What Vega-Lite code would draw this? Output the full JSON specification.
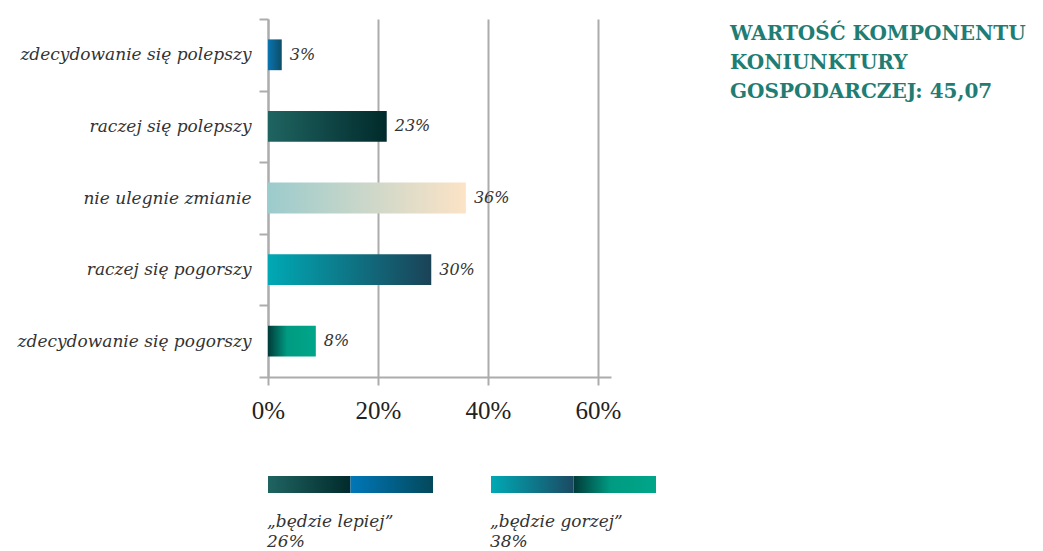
{
  "$schema": "https://vega.github.io/schema/vega-lite/v6.json",
  "background": "white",
  "padding": {"left": 17, "top": 10, "right": 5, "bottom": 0},
  "config": {"view": {"stroke": null}, "font": "DejaVu Serif"},
  "spacing": 53,
  "vconcat": [
    {
      "width": 343,
      "height": 358,
      "title": {
        "text": ["WARTOŚĆ KOMPONENTU", "KONIUNKTURY", "GOSPODARCZEJ: 45,07"],
        "anchor": "start",
        "frame": "group",
        "baseline": "top",
        "dx": 462,
        "dy": 92,
        "offset": 0,
        "font": "DejaVu Serif",
        "fontWeight": "bold",
        "fontSize": 20,
        "lineHeight": 29,
        "color": "#1f7d73"
      },
      "data": {
        "values": [
          {"odpowiedz": "zdecydowanie się polepszy", "udzial": 2.5, "etykieta": "3%"},
          {"odpowiedz": "raczej się polepszy", "udzial": 21.6, "etykieta": "23%"},
          {"odpowiedz": "nie ulegnie zmianie", "udzial": 36, "etykieta": "36%"},
          {"odpowiedz": "raczej się pogorszy", "udzial": 29.7, "etykieta": "30%"},
          {"odpowiedz": "zdecydowanie się pogorszy", "udzial": 8.7, "etykieta": "8%"}
        ]
      },
      "encoding": {
        "y": {
          "field": "odpowiedz",
          "type": "nominal",
          "sort": null,
          "title": null,
          "scale": {"paddingInner": 0, "paddingOuter": 0},
          "axis": {
            "tickBand": "extent",
            "domainColor": "#acacac",
            "domainWidth": 2,
            "tickColor": "#acacac",
            "tickWidth": 2,
            "tickSize": 9,
            "labelPadding": 8,
            "labelFont": "DejaVu Serif",
            "labelFontStyle": "italic",
            "labelFontSize": 17,
            "labelColor": "#333333",
            "labelLimit": 400,
            "grid": false
          }
        },
        "x": {
          "field": "udzial",
          "type": "quantitative",
          "title": null,
          "scale": {"domain": [0, 62.4], "nice": false},
          "axis": {
            "values": [0, 20, 40, 60],
            "labelExpr": "datum.value + '%'",
            "grid": true,
            "gridColor": "#acacac",
            "gridWidth": 2,
            "domainColor": "#acacac",
            "domainWidth": 2,
            "tickColor": "#acacac",
            "tickWidth": 2,
            "tickSize": 8,
            "labelPadding": 13,
            "labelFont": "Liberation Serif",
            "labelFontSize": 25,
            "labelColor": "#222222",
            "labelFlush": false
          }
        }
      },
      "layer": [
        {
          "transform": [{"filter": "datum.odpowiedz === 'zdecydowanie się polepszy'"}],
          "mark": {"type": "bar", "height": {"band": 0.43}, "color": {"gradient": "linear", "x1": 0, "y1": 0, "x2": 1, "y2": 0, "stops": [{"offset": 0, "color": "#0a74b0"}, {"offset": 1, "color": "#0c4d66"}]}}
        },
        {
          "transform": [{"filter": "datum.odpowiedz === 'raczej się polepszy'"}],
          "mark": {"type": "bar", "height": {"band": 0.43}, "color": {"gradient": "linear", "x1": 0, "y1": 0, "x2": 1, "y2": 0, "stops": [{"offset": 0, "color": "#1f6461"}, {"offset": 1, "color": "#012a2b"}]}}
        },
        {
          "transform": [{"filter": "datum.odpowiedz === 'nie ulegnie zmianie'"}],
          "mark": {"type": "bar", "height": {"band": 0.43}, "color": {"gradient": "linear", "x1": 0, "y1": 0, "x2": 1, "y2": 0, "stops": [{"offset": 0, "color": "#9bcbcc"}, {"offset": 1, "color": "#fce3c6"}]}}
        },
        {
          "transform": [{"filter": "datum.odpowiedz === 'raczej się pogorszy'"}],
          "mark": {"type": "bar", "height": {"band": 0.43}, "color": {"gradient": "linear", "x1": 0, "y1": 0, "x2": 1, "y2": 0, "stops": [{"offset": 0, "color": "#00a9b5"}, {"offset": 1, "color": "#1b4257"}]}}
        },
        {
          "transform": [{"filter": "datum.odpowiedz === 'zdecydowanie się pogorszy'"}],
          "mark": {"type": "bar", "height": {"band": 0.43}, "color": {"gradient": "linear", "x1": 0, "y1": 0, "x2": 1, "y2": 0, "stops": [{"offset": 0, "color": "#013b39"}, {"offset": 0.4, "color": "#009b82"}, {"offset": 1, "color": "#00a689"}]}}
        },
        {
          "mark": {"type": "text", "align": "left", "baseline": "middle", "dx": 8, "font": "DejaVu Serif", "fontStyle": "italic", "fontSize": 16, "color": "#333333"},
          "encoding": {"text": {"field": "etykieta"}}
        }
      ]
    },
    {
      "width": 388,
      "height": 17,
      "encoding": {
        "x": {"field": "grupa", "type": "nominal", "sort": ["lepiej", "gorzej"], "scale": {"paddingInner": 0.26, "paddingOuter": 0}, "axis": null}
      },
      "layer": [
        {
          "data": {"values": [
            {"grupa": "lepiej", "czesc": "a"},
            {"grupa": "lepiej", "czesc": "b"},
            {"grupa": "gorzej", "czesc": "a"},
            {"grupa": "gorzej", "czesc": "b"}
          ]},
          "encoding": {"xOffset": {"field": "czesc", "type": "nominal", "sort": ["a", "b"], "scale": {"paddingInner": 0, "paddingOuter": 0}}},
          "layer": [
            {
              "transform": [{"filter": "datum.grupa === 'lepiej' && datum.czesc === 'a'"}],
              "mark": {"type": "bar", "color": {"gradient": "linear", "x1": 0, "y1": 0, "x2": 1, "y2": 0, "stops": [{"offset": 0, "color": "#1f6461"}, {"offset": 1, "color": "#012a2b"}]}}
            },
            {
              "transform": [{"filter": "datum.grupa === 'lepiej' && datum.czesc === 'b'"}],
              "mark": {"type": "bar", "color": {"gradient": "linear", "x1": 0, "y1": 0, "x2": 1, "y2": 0, "stops": [{"offset": 0, "color": "#0077b8"}, {"offset": 1, "color": "#03485a"}]}}
            },
            {
              "transform": [{"filter": "datum.grupa === 'gorzej' && datum.czesc === 'a'"}],
              "mark": {"type": "bar", "color": {"gradient": "linear", "x1": 0, "y1": 0, "x2": 1, "y2": 0, "stops": [{"offset": 0, "color": "#00a9b5"}, {"offset": 1, "color": "#1b4a62"}]}}
            },
            {
              "transform": [{"filter": "datum.grupa === 'gorzej' && datum.czesc === 'b'"}],
              "mark": {"type": "bar", "color": {"gradient": "linear", "x1": 0, "y1": 0, "x2": 1, "y2": 0, "stops": [{"offset": 0, "color": "#013b39"}, {"offset": 0.45, "color": "#009b82"}, {"offset": 1, "color": "#00a689"}]}}
            }
          ]
        },
        {
          "data": {"values": [
            {"grupa": "lepiej", "nazwa": "„będzie lepiej”", "wynik": "26%"},
            {"grupa": "gorzej", "nazwa": "„będzie gorzej”", "wynik": "38%"}
          ]},
          "layer": [
            {
              "mark": {"type": "text", "align": "left", "baseline": "middle", "dy": 37, "dx": -1, "font": "DejaVu Serif", "fontStyle": "italic", "fontSize": 17, "color": "#333333"},
              "encoding": {"x": {"field": "grupa", "type": "nominal", "bandPosition": 0}, "text": {"field": "nazwa"}}
            },
            {
              "mark": {"type": "text", "align": "left", "baseline": "middle", "dy": 57, "dx": -1, "font": "DejaVu Serif", "fontStyle": "italic", "fontSize": 17, "color": "#333333"},
              "encoding": {"x": {"field": "grupa", "type": "nominal", "bandPosition": 0}, "text": {"field": "wynik"}}
            }
          ]
        }
      ]
    }
  ]
}
